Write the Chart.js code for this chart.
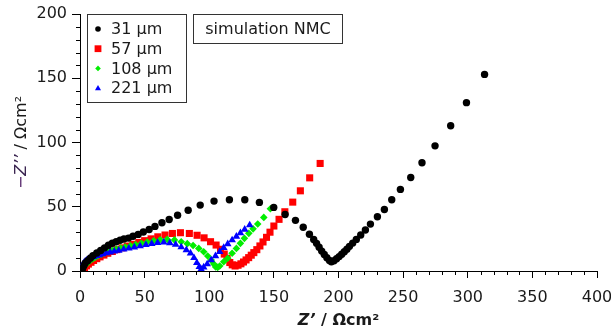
<!DOCTYPE html>
<html>
<head>
<meta charset="utf-8">
<script src="https://cdn.jsdelivr.net/npm/chart.js@4.4.1/dist/chart.umd.min.js"></script>
<style>
  html, body { margin: 0; padding: 0; background: #fff; }
  #wrap { width: 611px; height: 331px; position: relative; }
</style>
</head>
<body>
<div id="wrap"><canvas id="nyquist"></canvas></div>
<script>
// Nyquist plots, simulated NMC electrodes of four thicknesses
const seriesLabels = ['31 µm', '57 µm', '108 µm', '221 µm'];
const seriesColors = ['#000000', '#ff0000', '#00ee00', '#0000ff'];
const seriesShapes = ['circle', 'rect', 'rectRot', 'triangle'];

const re31 = [2, 3, 4, 6, 8, 10, 13, 16, 19, 22, 25, 28, 31, 34, 37.5, 41, 45, 49, 53.5, 58, 63.4, 69, 75.5, 83.7, 93, 103.7, 115.6, 127.5, 138.8, 149.9, 158.7, 166.7, 172.7, 177.5, 180.8, 183, 185, 187, 189, 191, 193, 194.5, 196.5, 198.5, 200.5, 202.5, 204.5, 206.5, 208.5, 211, 213.8, 217.2, 220.8, 224.7, 230.1, 235.5, 241.2, 247.9, 255.9, 264.6, 274.7, 286.8, 299, 313];
const im31 = [2, 4, 6, 8, 10, 12, 14, 16, 18, 20, 21.6, 22.8, 23.9, 24.9, 25.6, 27, 28.5, 30.3, 32.3, 34.7, 37.5, 40.1, 43.4, 47.3, 51.3, 54.4, 55.4, 55.4, 53.4, 49.5, 44, 39.4, 34, 28.6, 24.6, 21.5, 18.5, 15.5, 12.8, 10.3, 8.2, 7.2, 8, 9.5, 11.2, 13, 15, 17, 19.2, 21.7, 24.6, 28, 31.9, 36.5, 42.2, 47.9, 55.4, 63.5, 72.8, 84.2, 97.4, 113, 131, 153];

const re57 = [2, 3.5, 5, 6.5, 8.5, 10.5, 13, 15.5, 18.5, 21.5, 25, 28.5, 32.5, 36.5, 41, 45.5, 50, 55, 60.2, 65.8, 71.5, 77.7, 84.6, 90.6, 96, 101, 105.3, 108.7, 111.6, 113.8, 115.9, 117.8, 120, 122.3, 124.5, 126.5, 128.5, 130.5, 132.5, 134.5, 136.8, 139.2, 141.6, 144.3, 147, 150, 154, 158.5, 164.6, 170.5, 177.7, 185.8];
const im57 = [1, 2.5, 4, 5.4, 6.8, 8.2, 9.6, 11, 12.4, 13.8, 15.2, 16.6, 18, 19.4, 20.8, 22.2, 23.6, 25, 26.6, 28, 29.2, 29.8, 29.2, 27.8, 25.8, 22.8, 20.2, 16.9, 13.2, 9.9, 6.6, 4.8, 3.9, 4.5, 5.6, 7, 8.6, 10.4, 12.3, 14.3, 16.6, 19.5, 22.6, 26.2, 30.2, 35, 40.2, 46.1, 53.6, 62.4, 72.5, 83.7];

const re108 = [1.5, 2.5, 3.5, 5, 6.5, 8, 10, 12, 14, 16.5, 19, 22, 25, 28, 31.5, 35, 39, 43, 47.5, 52, 57, 62, 67.5, 73.1, 78.3, 83, 87.5, 91.9, 95.7, 98.8, 101.5, 103.5, 105, 106.5, 108.1, 111.2, 114.3, 117.7, 121, 124.1, 127.2, 130.6, 133.9, 137.5, 142.2, 147.3];
const im108 = [1, 2.5, 4, 5.5, 7, 8.3, 9.6, 10.8, 11.9, 13, 14, 15, 16, 16.9, 17.8, 18.7, 19.6, 20.5, 21.5, 22.5, 23.5, 24.3, 24.6, 24.2, 22.8, 21.3, 19.9, 17.6, 15, 11.7, 8.5, 5.4, 3.2, 2.8, 3.9, 7.2, 9.9, 13.8, 17.6, 21.5, 25.4, 29.3, 32.8, 36.6, 41.7, 48.4];

const re221 = [0.5, 1, 1.5, 2.2, 3, 4, 5.3, 6.8, 8.5, 10.5, 12.7, 15, 17.5, 20.3, 23.3, 26.5, 30, 33.8, 37.8, 42, 46.5, 51, 55.5, 60, 64.8, 69.5, 74, 78.3, 82.3, 85.5, 88.2, 90.4, 92.3, 93.7, 95.7, 98.4, 101.5, 104.8, 108.1, 111.2, 114.3, 117.7, 121, 124.1, 127.4, 131.3];
const im221 = [0.5, 2, 3.5, 5, 6.3, 7.5, 8.5, 9.4, 10.2, 11, 11.8, 12.5, 13.2, 13.9, 14.6, 15.3, 16, 16.8, 17.6, 18.5, 19.4, 20.3, 21.2, 22, 22.4, 21.8, 20.5, 18.6, 16.4, 13.8, 10.2, 6.4, 3.2, 1.4, 2.9, 5.4, 8.5, 11.7, 15, 18.1, 21, 24.1, 26.9, 29.6, 32.3, 35.7];

const xTicks = [0, 50, 100, 150, 200, 250, 300, 350, 400];
const yTicks = [0, 50, 100, 150, 200];

const FONT = '"DejaVu Sans", Verdana, sans-serif';
const INK = '#1a1a1a';

function toPoints(xs, ys) {
  return xs.map((x, i) => ({ x: x, y: ys[i] }));
}

const reals = [re31, re57, re108, re221];
const imags = [im31, im57, im108, im221];
const radii = [3.7, 5, 3.8, 4.4];
// black on top, then blue, green, red
const drawOrder = [0, 3, 2, 1];

const datasets = seriesLabels.map((label, i) => ({
  label: label,
  data: toPoints(reals[i], imags[i]),
  pointStyle: seriesShapes[i],
  pointRadius: radii[i],
  pointHoverRadius: radii[i],
  pointBorderWidth: 0,
  borderWidth: 0,
  backgroundColor: seriesColors[i],
  borderColor: seriesColors[i],
  showLine: false,
  order: drawOrder[i]
}));

function marker(ctx, shape, x, y, r, color) {
  ctx.save();
  ctx.fillStyle = color;
  ctx.beginPath();
  if (shape === 'circle') {
    ctx.arc(x, y, r, 0, Math.PI * 2);
  } else if (shape === 'rect') {
    ctx.rect(x - r, y - r, 2 * r, 2 * r);
  } else if (shape === 'rectRot') {
    ctx.moveTo(x, y - r); ctx.lineTo(x + r, y); ctx.lineTo(x, y + r); ctx.lineTo(x - r, y);
    ctx.closePath();
  } else {
    ctx.moveTo(x, y - r); ctx.lineTo(x + r * 0.95, y + r * 0.7); ctx.lineTo(x - r * 0.95, y + r * 0.7);
    ctx.closePath();
  }
  ctx.fill();
  ctx.restore();
}

// minor ticks, axis titles, legend and the label box
const decor = {
  id: 'decor',
  afterDraw(chart) {
    const ctx = chart.ctx;
    const xs = chart.scales.x, ys = chart.scales.y;
    const area = chart.chartArea;

    ctx.save();
    ctx.strokeStyle = '#000';
    ctx.lineWidth = 1;
    ctx.beginPath();
    for (let v = 10; v < 400; v += 10) {
      if (v % 50 === 0) continue;
      const px = Math.round(xs.getPixelForValue(v)) + 0.5;
      ctx.moveTo(px, area.bottom); ctx.lineTo(px, area.bottom + 4);
    }
    for (let v = 10; v < 200; v += 10) {
      if (v % 50 === 0) continue;
      const py = Math.round(ys.getPixelForValue(v)) + 0.5;
      ctx.moveTo(area.left, py); ctx.lineTo(area.left - 4, py);
    }
    ctx.stroke();

    // x title
    ctx.fillStyle = INK;
    ctx.textBaseline = 'middle';
    const xParts = [
      { t: 'Z’', f: 'italic bold 16px ' + FONT },
      { t: ' / Ωcm²', f: 'bold 16px ' + FONT }
    ];
    let total = 0;
    xParts.forEach(p => { ctx.font = p.f; p.w = ctx.measureText(p.t).width; total += p.w; });
    let cx = (area.left + area.right) / 2 - total / 2;
    ctx.textAlign = 'left';
    xParts.forEach(p => { ctx.font = p.f; ctx.fillText(p.t, cx, 321); cx += p.w; });

    // y title, rotated
    ctx.save();
    ctx.translate(22, (area.top + area.bottom) / 2);
    ctx.rotate(-Math.PI / 2);
    const yParts = [
      { t: '−', f: '16px ' + FONT, c: '#5a2a6e' },
      { t: 'Z’’', f: 'italic 16px ' + FONT, c: '#3a2450' },
      { t: ' / Ωcm²', f: '16px ' + FONT, c: INK }
    ];
    total = 0;
    yParts.forEach(p => { ctx.font = p.f; p.w = ctx.measureText(p.t).width; total += p.w; });
    cx = -total / 2;
    yParts.forEach(p => { ctx.font = p.f; ctx.fillStyle = p.c; ctx.fillText(p.t, cx, 0); cx += p.w; });
    ctx.restore();

    // legend box
    ctx.strokeStyle = '#333';
    ctx.lineWidth = 1;
    ctx.fillStyle = '#fff';
    ctx.fillRect(87.5, 14.5, 99, 88);
    ctx.strokeRect(87.5, 14.5, 99, 88);
    ctx.font = '16px ' + FONT;
    ctx.textAlign = 'left';
    const legR = [2.8, 3.4, 2.8, 3.2];
    seriesLabels.forEach((label, i) => {
      const ly = 29 + i * 19.7;
      marker(ctx, seriesShapes[i], 98, ly, legR[i], seriesColors[i]);
      ctx.fillStyle = INK;
      ctx.fillText(label, 111, ly + 1);
    });

    // annotation box
    ctx.fillStyle = '#fff';
    ctx.fillRect(193.5, 14.5, 149, 29);
    ctx.strokeRect(193.5, 14.5, 149, 29);
    ctx.fillStyle = INK;
    ctx.textAlign = 'center';
    ctx.fillText('simulation NMC', 268, 30);
    ctx.restore();
  }
};

new Chart(document.getElementById('nyquist'), {
  type: 'scatter',
  data: { datasets: datasets },
  options: {
    responsive: true,
    maintainAspectRatio: false,
    animation: false,
    events: [],
    layout: { padding: { left: 0, top: 14, right: 14, bottom: 0 } },
    plugins: { legend: { display: false }, tooltip: { enabled: false } },
    scales: {
      x: {
        type: 'linear',
        min: 0,
        max: 400,
        afterFit(scale) {
          scale.height = 60;
          scale.paddingLeft = 0;
          scale.paddingRight = 0;
        },
        afterBuildTicks(scale) { scale.ticks = xTicks.map(v => ({ value: v })); },
        grid: { drawOnChartArea: false, drawTicks: true, tickLength: 7, tickColor: '#000' },
        border: { display: true, color: '#000', width: 1 },
        ticks: { color: INK, font: { family: FONT, size: 16 }, padding: 10, maxRotation: 0 }
      },
      y: {
        type: 'linear',
        min: 0,
        max: 200,
        afterFit(scale) {
          scale.width = 80;
          scale.paddingTop = 0;
          scale.paddingBottom = 0;
        },
        afterBuildTicks(scale) { scale.ticks = yTicks.map(v => ({ value: v })); },
        grid: { drawOnChartArea: false, drawTicks: true, tickLength: 8, tickColor: '#000' },
        border: { display: true, color: '#000', width: 1 },
        ticks: { color: INK, font: { family: FONT, size: 16 }, padding: 5 }
      }
    }
  },
  plugins: [decor]
});
</script>
</body>
</html>
